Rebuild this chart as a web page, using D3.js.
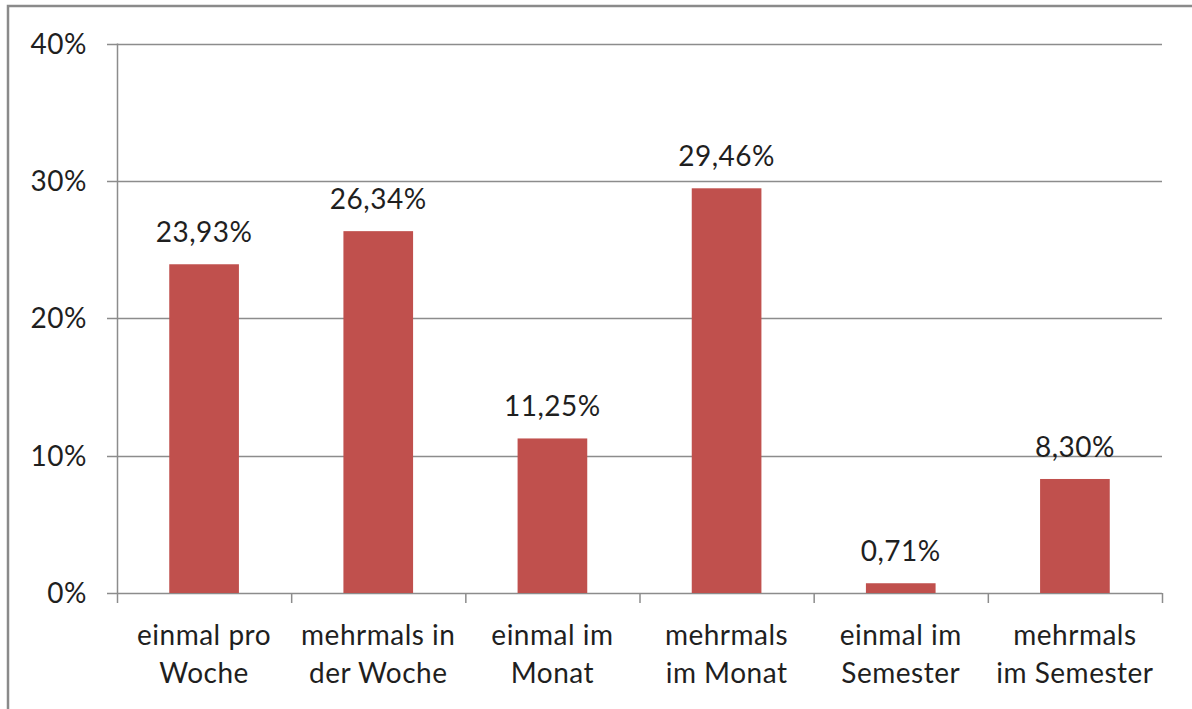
<!DOCTYPE html>
<html>
<head>
<meta charset="utf-8">
<script src="https://cdn.jsdelivr.net/npm/d3@7"></script>
<style>
  html, body { margin: 0; padding: 0; background: #fff; }
  svg { display: block; }
  text { font-family: Lato, "Open Sans", sans-serif; fill: #1f1f1f; letter-spacing: 0.5px; }
</style>
</head>
<body>
<svg id="chart" width="1192" height="709"></svg>
<script>
// Häufigkeit – Anteile je Kategorie
const categories = [
  ["einmal pro", "Woche"],
  ["mehrmals in", "der Woche"],
  ["einmal im", "Monat"],
  ["mehrmals", "im Monat"],
  ["einmal im", "Semester"],
  ["mehrmals", "im Semester"]
];
const values = [0.2393, 0.2634, 0.1125, 0.2946, 0.0071, 0.0830];
const yTicks = [0, 0.1, 0.2, 0.3, 0.4];

const svg = d3.select("#chart");
const plotLeft = 117, plotRight = 1162, plotTop = 43.5, plotBottom = 593;
const gridColor = "#8c8c8c";
const barColor = "#C0504D";
const fontSize = 28;

const x = d3.scaleBand()
  .domain(d3.range(categories.length))
  .range([plotLeft, plotRight])
  .paddingInner(0.6)
  .paddingOuter(0.3);

const y = d3.scaleLinear().domain([0, 0.4]).range([plotBottom, plotTop]);

const pct = v => d3.format(".0%")(v);
const pct2 = v => (v * 100).toFixed(2).replace(".", ",") + "%";

// outer frame
svg.append("rect")
  .attr("x", 8).attr("y", 6)
  .attr("width", 1200).attr("height", 720)
  .attr("fill", "none")
  .attr("stroke", "#8a8a8a")
  .attr("stroke-width", 2.5);

// horizontal gridlines with tick stubs
svg.append("g").selectAll("line")
  .data(yTicks)
  .join("line")
  .attr("x1", plotLeft - 10).attr("x2", plotRight)
  .attr("y1", d => Math.round(y(d)) + 0.5)
  .attr("y2", d => Math.round(y(d)) + 0.5)
  .attr("stroke", gridColor)
  .attr("stroke-width", 1.5);

// y-axis line
svg.append("line")
  .attr("x1", plotLeft + 0.5).attr("x2", plotLeft + 0.5)
  .attr("y1", y(0.4)).attr("y2", y(0))
  .attr("stroke", gridColor).attr("stroke-width", 1.5);

// y tick labels
svg.append("g").selectAll("text")
  .data(yTicks)
  .join("text")
  .attr("x", 87)
  .attr("y", d => y(d))
  .attr("dy", "0.36em")
  .attr("text-anchor", "end")
  .attr("font-size", fontSize)
  .text(pct);

// category boundary ticks below the axis
const step = x.step();
svg.append("g").selectAll("line")
  .data(d3.range(categories.length + 1))
  .join("line")
  .attr("x1", i => plotLeft + i * step + 0.5)
  .attr("x2", i => plotLeft + i * step + 0.5)
  .attr("y1", plotBottom).attr("y2", plotBottom + 10)
  .attr("stroke", gridColor).attr("stroke-width", 1.5);

// bars
svg.append("g").selectAll("rect")
  .data(values)
  .join("rect")
  .attr("x", (d, i) => x(i))
  .attr("width", x.bandwidth())
  .attr("y", d => y(d))
  .attr("height", d => y(0) - y(d))
  .attr("fill", barColor);

// value labels
svg.append("g").selectAll("text")
  .data(values)
  .join("text")
  .attr("x", (d, i) => x(i) + x.bandwidth() / 2)
  .attr("y", d => y(d) - 22)
  .attr("text-anchor", "middle")
  .attr("font-size", fontSize)
  .text(pct2);

// category labels (two lines)
const catG = svg.append("g").selectAll("text")
  .data(categories)
  .join("text")
  .attr("text-anchor", "middle")
  .attr("font-size", fontSize);
catG.selectAll("tspan")
  .data((d, i) => d.map((t, j) => ({ t, j, i })))
  .join("tspan")
  .attr("x", d => x(d.i) + x.bandwidth() / 2)
  .attr("y", d => 645 + d.j * 38)
  .text(d => d.t);
</script>
</body>
</html>
